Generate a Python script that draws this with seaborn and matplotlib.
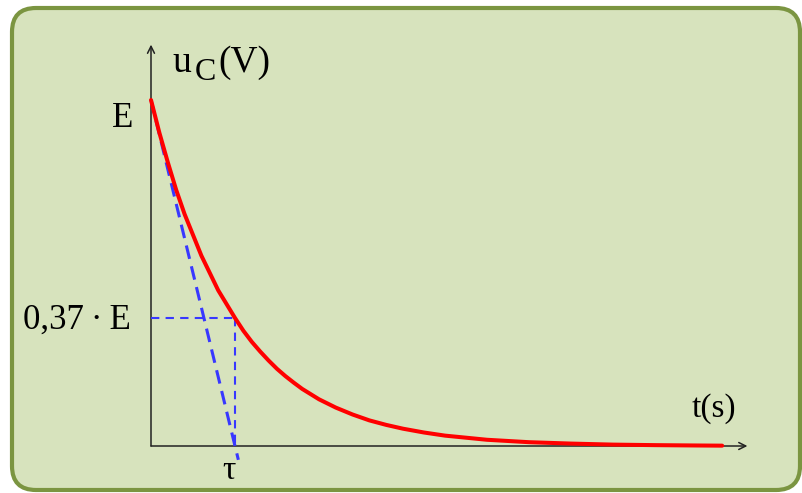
import matplotlib
matplotlib.use("Agg")
import matplotlib.pyplot as plt
import seaborn as sns
from matplotlib.patches import FancyBboxPatch
from matplotlib.transforms import IdentityTransform

# Curve (t in units of tau, u in units of E)
t_vals = [0, 0.1, 0.2, 0.3, 0.4, 0.5, 0.6, 0.7, 0.8, 0.9, 1.0, 1.1, 1.2, 1.3,
          1.4, 1.5, 1.6, 1.7, 1.8, 1.9, 2.0, 2.2, 2.4, 2.6, 2.8, 3.0, 3.25,
          3.5, 3.75, 4.0, 4.5, 5.0, 5.5, 6.0, 6.5, 6.8]
u_vals = [1.0, 0.905, 0.82, 0.74, 0.67, 0.61, 0.55, 0.50, 0.45, 0.41, 0.37,
          0.333, 0.301, 0.273, 0.247, 0.223, 0.202, 0.183, 0.165, 0.150,
          0.135, 0.111, 0.091, 0.074, 0.061, 0.050, 0.039, 0.030, 0.024,
          0.018, 0.011, 0.007, 0.004, 0.0025, 0.0015, 0.001]

# Construction lines
tangent_t = [0, 1.04]
tangent_u = [1.0, -0.04]
tau = 1.0
level = 0.37

sns.set_style("white")
plt.rcParams["font.family"] = ["Liberation Serif", "DejaVu Serif"]

fig = plt.figure(figsize=(8.02, 4.93), dpi=100)
ax = fig.add_axes([0, 0, 1, 1])
ax.set_xlim(-151 / 84, (802 - 151) / 84)
ax.set_ylim((446 - 493) / 346, 446 / 346)
ax.axis("off")

# Rounded green panel
box = FancyBboxPatch((12, 3), 788, 482, boxstyle="round,pad=0,rounding_size=24",
                     facecolor="#d7e3bd", edgecolor="#7b9541", linewidth=3,
                     transform=IdentityTransform(), zorder=0, clip_on=False)
ax.add_patch(box)

# Axes with arrows
arrow = dict(arrowstyle="->,head_length=0.5,head_width=0.25", lw=1.1, color="#222222",
             shrinkA=0, shrinkB=0)
ax.annotate("", xy=(7.1, 0), xytext=(0, 0), arrowprops=arrow, zorder=2)
ax.annotate("", xy=(0, 1.16), xytext=(0, 0), arrowprops=arrow, zorder=2)

# Dashed helper lines
blue = "#3838ff"
ax.plot(tangent_t, tangent_u, color=blue, lw=2.2, dashes=(4.5, 2.5), zorder=3)
ax.plot([0, tau], [level, level], color=blue, lw=1.5, dashes=(4, 3), zorder=3)
ax.plot([tau, tau], [level, 0], color=blue, lw=1.5, dashes=(4, 3), zorder=3)

# Discharge curve
sns.lineplot(x=t_vals, y=u_vals, color="red", lw=2.9, ax=ax, zorder=4)

# Labels
txt = dict(color="black", va="baseline")
ax.text(-0.214, 0.922, "E", fontsize=25, ha="right", **txt)
ax.text(-0.238, 0.338, "0,37\u2009·\u2009E", fontsize=25, ha="right", **txt)
ax.text(0.93, -0.095, "τ", fontsize=24, ha="center", **txt)
ax.text(0.26, 1.081, "u", fontsize=27, ha="left", **txt)
ax.text(0.52, 1.058, "C", fontsize=23, ha="left", **txt)
ax.text(0.80, 1.081, "(V)", fontsize=27, ha="left", **txt)
ax.text(6.44, 0.084, "t(s)", fontsize=24, ha="left", **txt)

fig.savefig("out.png", dpi=100, facecolor="white")
